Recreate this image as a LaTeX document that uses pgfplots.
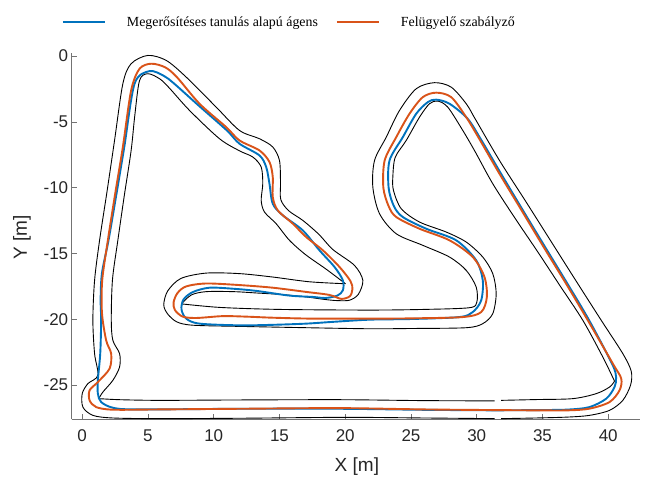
\documentclass[border=0pt]{standalone}
\usepackage{fontspec}
\setmainfont{Liberation Sans}
\newfontfamily\legendserif{Liberation Serif}
\usepackage{pgfplots}
\pgfplotsset{compat=1.18}
\definecolor{mblue}{rgb}{0,0.447,0.741}
\definecolor{morange}{rgb}{0.85,0.325,0.098}
\definecolor{axgray}{gray}{0.15}
\begin{document}
\begin{tikzpicture}
\begin{axis}[
  x=13.15pt, y=13.16pt,
  xmin=-0.8, xmax=42.4, ymin=-27.6, ymax=0.2,
  axis x line*=bottom, axis y line*=left,
  axis line style={black!55, line width=0.6pt},
  tick align=inside, major tick length=5pt,
  tick style={black!55, line width=0.6pt},
  xtick={0,5,...,40}, ytick={-25,-20,...,0},
  /pgf/number format/assume math mode=true,
  tick label style={font=\fontsize{17}{20}\selectfont, text=axgray},
  xticklabel style={yshift=-7pt},
  xlabel={X [m]}, ylabel={Y [m]},
  label style={font=\fontsize{19}{22}\selectfont, text=axgray},
  xlabel style={at={(axis description cs:0.502,-0.13)}, anchor=center},
  ylabel style={at={(axis description cs:-0.0875,0.498)}, anchor=center},
  legend style={at={(axis description cs:-0.017,1.085)}, anchor=west,
    draw=none, fill=none, inner sep=0pt, outer sep=0pt, legend columns=-1,
    font=\legendserif\fontsize{13.9}{16}\selectfont,
    /tikz/every odd column/.append style={column sep=19pt},
    /tikz/every even column/.append style={column sep=16pt}},
  legend image code/.code={\draw[#1] (0pt,0pt) -- (42pt,0pt);},
  every axis plot/.append style={smooth, tension=0.5},
]
% track boundaries
\addplot[black, line width=0.9pt, forget plot] coordinates {
(31.86,-27.55) (34.5,-27.5) (36.94,-27.43) (38.58,-27.3) (40.1,-26.92) (41.11,-26.16) (41.7,-25.0) (41.75,-23.95) (41.11,-22.61) (39.47,-20.08) (37.5,-17.0) (35.6,-14.0) (33.7,-11.0) (31.73,-7.93) (29.9,-4.8) (29.2,-3.62) (28.06,-2.36) (26.79,-2.02) (25.4,-2.48) (24.13,-4.13) (23.12,-6.16) (22.23,-7.93) (22.1,-9.95) (22.61,-11.98) (23.88,-13.5) (25.9,-14.38) (27.93,-15.27) (29.2,-16.28) (29.96,-17.55) (30.01,-18.69) (29.45,-19.12) (26,-19.25) (21.85,-19.3) (15,-19.25) (10.5,-19.1) (7.55,-18.83)
};
\addplot[black, line width=0.9pt, forget plot] coordinates {
(7.55,-18.83) (8.3,-18.15) (9.43,-17.9) (11.5,-17.9) (13.23,-18.0) (15.2,-18.12) (17.03,-18.3) (18.5,-18.5) (19.4,-18.58) (20.33,-18.55) (21.0,-18.1) (21.34,-17.04) (20.7,-15.9) (19.06,-14.7) (18.0,-13.55) (16.78,-12.49) (15.7,-11.75) (15.1,-10.9) (15.08,-9.6) (15.0,-7.93) (14.49,-6.91) (13.48,-6.28) (11.96,-5.65) (10.19,-3.88) (7.91,-1.6) (6.39,-0.33) (4.99,0.05) (3.72,-0.58) (3.09,-2.1) (2.46,-6.4) (1.9,-10.2) (1.32,-14.0) (0.94,-17.04) (0.81,-20.08) (0.94,-22.61) (1.19,-24.26) (0.43,-24.89) (0.0,-25.65) (0.05,-26.67) (0.81,-27.3) (2.33,-27.5) (5.88,-27.55) (12,-27.52) (20,-27.45) (26,-27.5) (31.36,-27.55)
};
\addplot[black, line width=0.9pt, forget plot] coordinates {
(31.86,-26.16) (34.5,-26.1) (37.31,-26.03) (39.09,-25.65) (40.1,-25.15) (40.48,-24.7)
};
\addplot[black, line width=0.9pt, forget plot] coordinates {
(40.48,-24.7) (39.59,-22.87) (38.07,-20.08) (36.3,-17.4) (34.65,-14.89) (32.9,-12.3) (31.22,-9.7) (29.9,-7.3) (28.94,-5.65) (27.8,-3.88) (27.04,-3.42) (26.41,-3.62) (25.65,-4.64) (24.64,-6.41) (23.8,-7.7) (23.62,-9.2) (23.67,-10.21) (24.26,-11.6) (25.65,-12.61) (27.68,-13.37) (29.2,-14.13) (30.46,-15.27) (31.22,-16.53) (31.48,-18.05) (31.22,-19.57) (30.46,-20.33) (29.2,-20.64) (25,-20.7) (21.85,-20.72) (17.03,-20.64) (11.96,-20.54) (8.4,-20.45) (7.2,-20.2) (6.5,-19.6) (6.2,-18.9) (6.5,-17.85) (7.5,-16.9) (9.43,-16.49) (11.96,-16.53) (14.49,-16.79) (17.28,-17.15) (20.02,-17.3)
};
\addplot[black, line width=0.9pt, forget plot] coordinates {
(20.02,-17.3) (18.56,-16.2) (17.0,-15.1) (15.76,-14.0) (14.75,-12.74) (13.86,-11.85) (13.61,-10.96) (13.73,-9.7) (13.61,-8.43) (12.97,-7.67) (11.96,-7.2) (10.44,-6.28) (8.16,-4.13) (6.6,-2.4) (5.88,-1.72) (4.99,-1.34) (4.36,-1.85) (4.0,-4.5) (3.72,-7.17) (3.2,-10.6) (2.71,-14.0) (2.3,-17.0) (2.21,-20.08) (2.33,-21.6) (2.84,-22.61) (2.84,-23.63) (2.33,-24.64) (1.57,-25.53) (1.26,-26.03)
};
\addplot[black, line width=0.9pt, forget plot] coordinates {
(1.26,-26.03) (2.84,-26.11) (5.88,-26.16) (12,-26.13) (19.57,-26.11) (26,-26.18) (31.36,-26.2)
};
% reinforcement learning agent
\addplot[mblue, line width=1.9pt] coordinates {
(31.3,-26.92) (34.5,-26.9) (36.94,-26.86) (38.58,-26.67) (39.85,-26.03) (40.48,-25.15) (40.6,-24.39) (40.3,-23.4) (38.55,-20.08) (36.9,-17.3) (35.2,-14.51) (33.5,-11.7) (31.85,-8.94) (30.3,-6.3) (29.3,-4.75) (27.93,-3.62) (26.92,-3.31) (26.28,-3.5) (25.4,-4.38) (24.38,-6.16) (23.37,-7.93) (23.3,-10.0) (23.7,-11.4) (24.38,-12.23) (26.16,-13.12) (28.44,-14.0) (29.96,-15.52) (30.46,-17.04) (30.34,-18.56) (29.7,-19.45) (28.69,-19.83) (25,-19.98) (21.85,-20.03) (19,-20.2) (17.03,-20.33) (14.5,-20.42) (11.96,-20.46) (8.92,-20.33) (7.91,-19.95) (7.55,-19.25) (7.7,-18.5) (8.41,-17.93) (9.68,-17.6) (11.5,-17.68) (13.3,-17.85) (15.76,-18.2) (17.5,-18.3) (18.5,-18.38) (19.4,-18.2) (19.82,-17.8) (19.82,-17.04) (19.19,-16.03) (18.04,-14.76) (16.77,-13.24) (15.25,-12.1) (14.49,-11.22) (14.24,-9.7) (13.99,-8.43) (13.48,-7.55) (11.96,-6.66) (11.0,-5.65) (8.9,-3.8) (7.0,-2.1) (6.2,-1.5) (5.12,-1.14) (3.98,-2.1) (3.2,-6.9) (2.6,-10.5) (2.0,-14.0) (1.5,-16.5) (1.4,-18.5) (1.44,-20.08) (1.37,-22.61) (1.19,-24.64) (1.19,-25.65) (1.44,-26.29) (2.33,-26.72) (4.11,-26.85) (12,-26.8) (19.57,-26.8) (26,-26.88) (31.3,-26.92)
};
% supervisory controller
\addplot[morange, line width=1.9pt] coordinates {
(31.5,-26.9) (34.5,-26.92) (36.94,-26.92) (38.58,-26.79) (40.1,-26.29) (40.86,-25.4) (40.99,-24.51) (40.35,-23.37) (38.45,-20.08) (36.8,-17.3) (35.09,-14.51) (33.4,-11.7) (31.73,-8.94) (30.2,-6.3) (29.2,-4.64) (28.06,-3.12) (26.92,-2.78) (25.9,-3.12) (24.89,-4.38) (23.88,-6.16) (23.0,-7.93) (22.9,-10.0) (23.3,-11.4) (23.88,-12.23) (25.65,-13.12) (27.93,-14.0) (29.7,-15.27) (30.59,-16.79) (30.77,-18.31) (30.34,-19.45) (28.94,-19.83) (25,-19.93) (21.85,-19.95) (17.5,-19.95) (14.49,-19.88) (12.5,-19.8) (10.69,-19.76) (8.7,-19.9) (7.65,-19.8) (7.05,-19.3) (6.95,-18.7) (7.25,-18.0) (7.91,-17.5) (9.43,-17.28) (11.96,-17.4) (14.49,-17.6) (17.03,-17.92) (18.8,-18.15) (19.7,-18.45) (20.35,-18.25) (20.55,-17.7) (20.4,-17.1) (19.57,-16.03) (18.3,-14.76) (17.03,-13.75) (16.02,-12.74) (14.87,-11.72) (14.49,-10.71) (14.49,-9.19) (14.24,-8.05) (13.48,-7.17) (11.96,-6.41) (10.95,-5.4) (8.92,-3.62) (7.2,-1.6) (6.3,-0.85) (5.25,-0.58) (4.36,-0.96) (3.72,-2.61) (3.09,-6.91) (2.5,-10.5) (1.95,-14.0) (1.52,-17.04) (1.5,-19.5) (1.82,-21.6) (2.2,-22.61) (2.08,-23.75) (1.19,-24.77) (0.56,-25.4) (0.56,-26.16) (1.06,-26.67) (2.33,-26.87) (5.88,-26.85) (12,-26.8) (19.57,-26.75) (26,-26.85) (31.5,-26.9)
};
\legend{Megerősítéses tanulás alapú ágens, Felügyelő szabályző}
\end{axis}
\pgfresetboundingbox
\path[use as bounding box] (-71.7pt,-57.7pt) rectangle (574.3pt,419.3pt);
\end{tikzpicture}
\end{document}
